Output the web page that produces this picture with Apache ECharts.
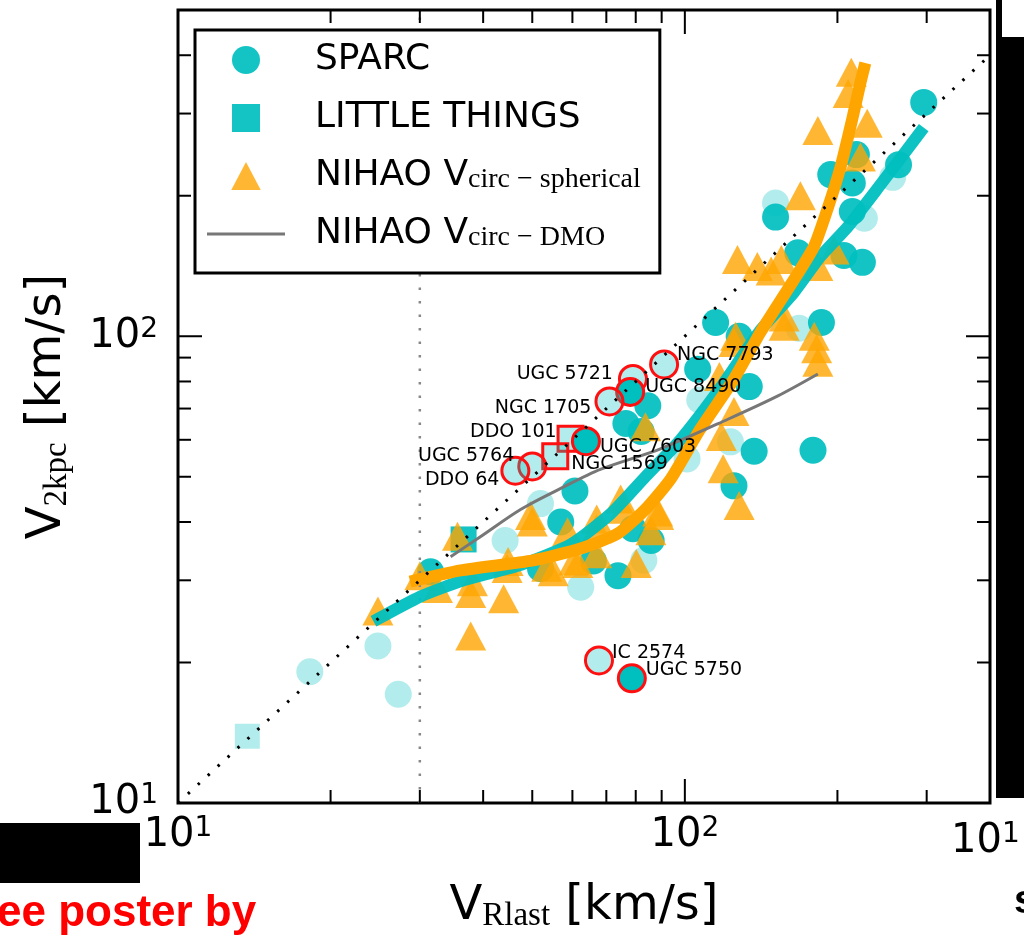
<!DOCTYPE html>
<html><head><meta charset="utf-8">
<script src="https://cdn.jsdelivr.net/npm/echarts@6/dist/echarts.min.js"></script>
<style>html,body{margin:0;padding:0;background:#fff}#c{width:1024px;height:938px}</style>
</head><body><div id="c"></div>
<script>
// ---------- data ----------
const sparcDarkX = [296, 264, 218, 194, 214, 214, 151, 167, 206, 224, 115, 186, 106, 134, 84.5, 76.5, 137, 179, 125, 82, 60.7, 56.9, 79, 85.8, 51.9, 73.8, 66, 31.5, 128];
const sparcDarkY = [317, 233, 245, 222, 213, 185, 180, 151, 149, 144, 107, 107, 85, 78, 71, 65, 56.7, 57, 47.8, 62.5, 46.6, 40, 38.7, 36.5, 31.8, 30.7, 33, 31.3, 100];
const sparcLightX = [257, 151, 168, 107, 51.9, 44.2, 62.3, 83, 18.2, 24.8, 27.2, 226, 101, 123];
const sparcLightY = [219, 193, 104, 73, 43.8, 36.5, 29, 33.1, 19.1, 21.7, 17.1, 179, 54.6, 59.4];
const ltDarkX = [36.6];
const ltDarkY = [36.7];
const ltLightX = [13.7];
const ltLightY = [13.9];
const nihaoX = [213, 210, 183, 229, 222, 169, 127, 139, 148, 155, 197, 183, 157, 126, 180, 157, 182, 183, 125, 117, 125, 118, 83.6, 119, 128, 74.7, 67, 88.4, 50, 75.6, 88.8, 67, 53.4, 61.5, 67, 80.2, 44.8, 37.8, 43.9, 37.8, 35.6, 24.8, 30, 32.5, 38.1, 44.6, 49.6, 55, 60.4, 85.7, 58.7];
const nihaoY = [368, 331, 276, 286, 242, 200, 146, 141, 138, 146, 153, 141, 110, 100, 100, 105, 94, 88, 97, 82, 69, 61, 64, 52, 43.4, 44.8, 40.6, 42, 40, 42.6, 41.3, 38.7, 32, 32.6, 34.2, 32.6, 32.9, 28.1, 27.4, 22.8, 37.3, 25.8, 30.7, 28.8, 29.8, 31.8, 41.3, 31.3, 33, 38.3, 38.1];
// running medians
const obsLineX = [24.3, 30.1, 36.6, 47.5, 59.5, 71.3, 83.6, 98, 118, 141, 164, 185, 210, 239, 296];
const obsLineY = [24.5, 27.7, 30, 32.4, 35.8, 41.6, 50, 60, 78, 103, 124, 148, 172, 206, 280];
const simLineX = [28.7, 36.1, 50.2, 62.3, 73.8, 83.6, 93.8, 107, 125, 141, 164, 180, 192, 203, 213, 222, 227];
const simLineY = [29.8, 31.5, 33.1, 35.1, 37.8, 42.6, 49.5, 63, 81, 102, 132, 156, 190, 231, 286, 349, 385];
const dmoLineX = [34.5, 39.5, 47.5, 56.9, 68.3, 89.5, 121.6, 152.6, 183];
const dmoLineY = [33.7, 37.2, 42.6, 47.2, 51.9, 57.4, 66.4, 74.5, 83];
// highlighted galaxies
const hlNames = ['NGC 7793', 'UGC 5721', 'UGC 8490', 'NGC 1705', 'DDO 101', 'UGC 7603', 'NGC 1569', 'UGC 5764', 'DDO 64', 'IC 2574', 'UGC 5750'];
const hlX = [91, 79, 78, 71, 59.5, 63.8, 55.5, 50, 46.3, 67.7, 78.6];
const hlY = [87, 81, 76, 72.5, 60.3, 59.6, 55.3, 52.6, 51.5, 20.2, 18.5];
const hlShape = ['circle', 'circle', 'circle', 'circle', 'square', 'circle', 'square', 'circle', 'circle', 'circle', 'circle'];
const hlShade = ['light', 'light', 'dark', 'light', 'light', 'dark', 'light', 'light', 'light', 'light', 'dark'];
// axis ticks
const xMajorTicks = [10, 100];
const xMinorTicks = [20, 30, 40, 50, 60, 70, 80, 90, 200, 300];
const yMajorTicks = [10, 100];
const yMinorTicks = [20, 30, 40, 50, 60, 70, 80, 90, 200, 300, 400];
const xRange = [10, 400];
const yRange = [10, 500];
const vLineX = 30;

// ---------- styles ----------
const SANS = 'DejaVu Sans';
const SERIF = 'Liberation Serif';
const TEAL = '#00BFBF';
const ORANGE = '#FFA500';
const labelPlace = {
  'NGC 7793': ['right', -2, [0, -9]],
  'UGC 5721': ['left', 5, [0, -5]],
  'UGC 8490': ['right', 0, [0, -5]],
  'NGC 1705': ['left', 3, [0, 7]],
  'DDO 101': ['left', 0, [0, -7]],
  'UGC 7603': ['right', -1, [0, 6]],
  'NGC 1569': ['right', 2, [0, 8]],
  'UGC 5764': ['left', 3, [0, -10]],
  'DDO 64': ['left', 1, [0, 9]],
  'IC 2574': ['right', -2, [0, -7]],
  'UGC 5750': ['right', -1, [0, -8]]
};

const zip = (a, b) => a.map((v, i) => [v, b[i]]);

const tickData = [];
xMajorTicks.forEach(v => tickData.push([v, yRange[0], 0, 1]));
xMinorTicks.forEach(v => tickData.push([v, yRange[0], 0, 0]));
yMajorTicks.forEach(v => tickData.push([xRange[0], v, 1, 1]));
yMinorTicks.forEach(v => tickData.push([xRange[0], v, 1, 0]));

function renderTick(params, api) {
  const axis = api.value(2), major = api.value(3);
  const p = api.coord([api.value(0), api.value(1)]);
  const cs = params.coordSys;
  const len = major ? 24 : 13;
  const style = {stroke: '#000', lineWidth: 2};
  if (axis === 0) {
    const yb = cs.y + cs.height, yt = cs.y;
    return {type: 'group', children: [
      {type: 'line', shape: {x1: p[0], y1: yb, x2: p[0], y2: yb - len}, style},
      {type: 'line', shape: {x1: p[0], y1: yt, x2: p[0], y2: yt + len}, style}
    ]};
  }
  const xl = cs.x, xr = cs.x + cs.width;
  return {type: 'group', children: [
    {type: 'line', shape: {x1: xl, y1: p[1], x2: xl + len, y2: p[1]}, style},
    {type: 'line', shape: {x1: xr, y1: p[1], x2: xr - len, y2: p[1]}, style}
  ]};
}

const hlData = hlNames.map((n, i) => {
  const pl = labelPlace[n];
  const sq = hlShape[i] === 'square';
  return {
    name: n,
    value: [hlX[i], hlY[i]],
    symbol: sq ? 'rect' : 'circle',
    symbolSize: sq ? 25 : 27,
    itemStyle: {color: hlShade[i] === 'dark' ? TEAL : 'rgba(0,191,191,0.3)', borderColor: '#FF1010', borderWidth: 3, opacity: 1},
    label: {show: true, formatter: n, position: pl[0], distance: pl[1], offset: pl[2],
      fontFamily: SANS, fontSize: 19, color: '#000'}
  };
});

const tickFmt = v => {
  const e = Math.log10(v);
  if (Math.abs(e - Math.round(e)) > 1e-6) return '';
  return '{b|10}{e|' + Math.round(e) + '}';
};
const tickRich = {
  b: {fontFamily: SANS, fontSize: 40, lineHeight: 42, color: '#000'},
  e: {fontFamily: SANS, fontSize: 28, lineHeight: 28, verticalAlign: 'top', color: '#000'}
};
const nameRich = {
  v: {fontFamily: SANS, fontSize: 48, lineHeight: 52, color: '#000'},
  s: {fontFamily: SERIF, fontSize: 33, lineHeight: 22, verticalAlign: 'bottom', color: '#000'}
};

const legendRich = {
  m: {fontFamily: SANS, fontSize: 36, lineHeight: 36, color: '#000'},
  s: {fontFamily: SERIF, fontSize: 28, lineHeight: 16, verticalAlign: 'bottom', color: '#000'}
};
const legendLabels = {
  'SPARC': '{m|SPARC}',
  'LITTLE THINGS': '{m|LITTLE THINGS}',
  'NIHAO sph': '{m|NIHAO V}{s|circ − spherical}',
  'NIHAO DMO': '{m|NIHAO V}{s|circ − DMO}'
};

const chart = echarts.init(document.getElementById('c'), null, {renderer: 'canvas'});
chart.setOption({
  animation: false,
  backgroundColor: '#fff',
  grid: {left: 178, top: 10, width: 812, height: 794, show: true, borderColor: '#000', borderWidth: 3, backgroundColor: 'transparent'},
  xAxis: {
    type: 'log', logBase: 10, min: xRange[0], max: xRange[1],
    axisLine: {show: false}, axisTick: {show: false}, splitLine: {show: false}, minorTick: {show: false},
    axisLabel: {formatter: tickFmt, rich: tickRich, margin: 12, showMaxLabel: false},
    name: '{v|V}{s|Rlast}{v| [km/s]}', nameLocation: 'middle', nameGap: 78,
    nameTextStyle: {rich: nameRich}
  },
  yAxis: {
    type: 'log', logBase: 10, min: yRange[0], max: yRange[1],
    axisLine: {show: false}, axisTick: {show: false}, splitLine: {show: false}, minorTick: {show: false},
    axisLabel: {formatter: tickFmt, rich: tickRich, margin: 20, showMaxLabel: false},
    name: '{v|V}{s|2kpc}{v| [km/s]}', nameLocation: 'middle', nameGap: 104,
    nameTextStyle: {rich: nameRich}
  },
  legend: {
    orient: 'vertical', left: 195, top: 30,
    data: [
      {name: 'SPARC', icon: 'circle'},
      {name: 'LITTLE THINGS', icon: 'path://M0,0H10V10H0Z'},
      {name: 'NIHAO sph', icon: 'path://M5,0L10,9.5H0Z'},
      {name: 'NIHAO DMO', icon: 'path://M0,0H78V3H0Z'}
    ],
    formatter: n => legendLabels[n],
    itemWidth: 78, itemHeight: 28, itemGap: 22,
    padding: [12, 19, 21, 12],
    borderColor: '#000', borderWidth: 3, backgroundColor: '#fff',
    textStyle: {rich: legendRich, padding: [0, 0, 0, 25]},
    selectedMode: false, z: 20
  },
  graphic: [
    {type: 'rect', shape: {x: 0, y: 823, width: 140, height: 60}, style: {fill: '#000'}},
    {type: 'text', x: -3, y: 914, style: {text: 'ee poster by', fill: '#FF0000', font: 'bold 44px "Liberation Sans"', textVerticalAlign: 'middle'}},
    {type: 'rect', shape: {x: 996, y: 0, width: 6, height: 40}, style: {fill: '#000'}},
    {type: 'rect', shape: {x: 996, y: 37, width: 28, height: 761}, style: {fill: '#000'}},
    {type: 'text', x: 951, y: 842, style: {rich: tickRich, text: '{b|10}{e|1}', textVerticalAlign: 'middle'}},
    {type: 'text', x: 1014, y: 902, style: {text: 's', fill: '#000', font: 'bold 40px "Liberation Sans"', textVerticalAlign: 'middle'}}
  ],
  series: [
    {type: 'custom', name: 'ticks', renderItem: renderTick, data: tickData, encode: {x: 0, y: 1}, silent: true, z: 30, clip: false},
    {type: 'line', name: 'vline', data: [[vLineX, yRange[0]], [vLineX, yRange[1]]], symbol: 'none', silent: true,
      lineStyle: {color: '#888', width: 2.5, type: [2.5, 11]}},
    {type: 'scatter', name: 'sparcLight', data: zip(sparcLightX, sparcLightY), symbol: 'circle', symbolSize: 27,
      itemStyle: {color: TEAL, opacity: 0.3}, silent: true},
    {type: 'scatter', name: 'ltLight', data: zip(ltLightX, ltLightY), symbol: 'rect', symbolSize: 25,
      itemStyle: {color: TEAL, opacity: 0.3}, silent: true},
    {type: 'scatter', name: 'SPARC', data: zip(sparcDarkX, sparcDarkY), symbol: 'circle', symbolSize: 27,
      itemStyle: {color: TEAL, opacity: 0.92}, silent: true},
    {type: 'scatter', name: 'LITTLE THINGS', data: zip(ltDarkX, ltDarkY), symbol: 'rect', symbolSize: 26,
      itemStyle: {color: TEAL, opacity: 0.92}, silent: true},
    {type: 'scatter', name: 'NIHAO sph', data: zip(nihaoX, nihaoY), symbol: 'triangle', symbolSize: [31, 29],
      itemStyle: {color: ORANGE, opacity: 0.8}, silent: true},
    {type: 'line', name: 'obsMedian', data: zip(obsLineX, obsLineY), symbol: 'none', smooth: 0.2, silent: true,
      lineStyle: {color: TEAL, width: 12, opacity: 0.95}},
    {type: 'line', name: 'simMedian', data: zip(simLineX, simLineY), symbol: 'none', smooth: 0.2, silent: true,
      lineStyle: {color: ORANGE, width: 12}},
    {type: 'line', name: 'NIHAO DMO', data: zip(dmoLineX, dmoLineY), symbol: 'none', smooth: 0.3, silent: true,
      itemStyle: {color: '#777'}, lineStyle: {color: '#777', width: 3}},
    {type: 'scatter', name: 'highlight', data: hlData, silent: true, z: 3},
    {type: 'line', name: 'oneToOne', data: [[xRange[0], xRange[0]], [xRange[1], xRange[1]]], symbol: 'none', silent: true, z: 4,
      lineStyle: {color: '#000', width: 3, type: [2.5, 11]}}
  ]
});
</script>
</body></html>
